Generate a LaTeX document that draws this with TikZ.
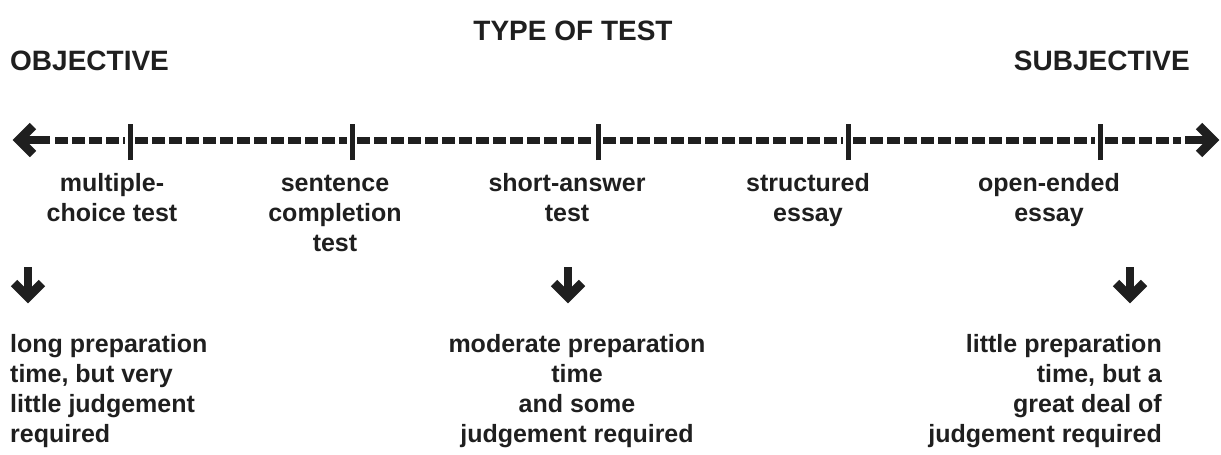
\documentclass[tikz,border=0pt]{standalone}
\usepackage{fontspec}
\setmainfont{Liberation Sans}
\begin{document}
\begin{tikzpicture}[x=1pt,y=-1pt,
  ink/.style={draw=black!88},
  heading/.style={font=\fontsize{28}{33}\selectfont\bfseries, text=black!88, inner sep=0pt},
  lbl/.style={font=\fontsize{25}{30}\selectfont\bfseries, text=black!88, inner sep=0pt},
  tickmark/.style={ink, line width=5pt},
  dashseg/.style={ink, line width=7pt, dash pattern=on 13pt off 4pt},
  shaft/.style={ink, line width=8pt},
  chev/.style={ink, line width=9pt, line join=miter, miter limit=10}]
\useasboundingbox (0,0) rectangle (1221,455);

% headings
\node[heading, anchor=base] (title) at (573,40) {TYPE OF TEST};
\node[heading, anchor=base west] (obj) at (10,70) {OBJECTIVE};
\node[heading, anchor=base east] (subj) at (1190,70) {SUBJECTIVE};

% axis: arrow ends, ticks
\coordinate (Ltip) at (19,140);
\coordinate (Lend) at (50,140);
\coordinate (Rtip) at (1213,140);
\coordinate (Rend) at (1185,140);
\coordinate (t1) at (130,140);
\coordinate (t2) at (352,140);
\coordinate (t3) at (598,140);
\coordinate (t4) at (848,140);
\coordinate (t5) at (1100,140);

\draw[shaft] (Ltip) -- (Lend);
\draw[chev] ([shift={(14,-14)}]Ltip) -- (Ltip) -- ([shift={(14,14)}]Ltip);
\draw[shaft] (Rend) -- (Rtip);
\draw[chev] ([shift={(-14,-14)}]Rtip) -- (Rtip) -- ([shift={(-14,14)}]Rtip);

\draw[dashseg] ([xshift=5]Lend) -- ([xshift=-5]t1);
\draw[dashseg] ([xshift=5]t1) -- ([xshift=-5]t2);
\draw[dashseg] ([xshift=5]t2) -- ([xshift=-5]t3);
\draw[dashseg] ([xshift=5]t3) -- ([xshift=-5]t4);
\draw[dashseg] ([xshift=5]t4) -- ([xshift=-5]t5);
\draw[dashseg] ([xshift=5]t5) -- ([xshift=-4]Rend);

\foreach \t in {t1,t2,t3,t4,t5}
  \draw[tickmark] ([yshift=-20]\t) -- ([yshift=16]\t);

% test types (node base = baseline of the last line)
\node[lbl, anchor=base, align=center] (mc) at (112,221) {multiple-\\choice test};
\node[lbl, anchor=base, align=center] (sc) at (335,251) {sentence\\completion\\test};
\node[lbl, anchor=base, align=center] (sa) at (567,221) {short-answer\\test};
\node[lbl, anchor=base, align=center] (se) at (808,221) {structured\\essay};
\node[lbl, anchor=base, align=center] (oe) at (1049,221) {open-ended\\essay};

% down arrows
\foreach \n/\x in {a/28,b/568,c/1130} {
  \coordinate (\n top) at (\x,267);
  \coordinate (\n apex) at (\x,297);
  \draw[shaft] (\n top) -- (\n apex);
  \draw[chev] ([shift={(-14,-14)}]\n apex) -- (\n apex) -- ([shift={(14,-14)}]\n apex);
}

% consequences
\node[lbl, anchor=base west, align=left] (lo) at (10,442)
  {long preparation\\time, but very\\little judgement\\required};
\node[lbl, anchor=base, align=center] (mid) at (577,442)
  {moderate preparation\\time\\and some\\judgement required};
\node[lbl, anchor=base east, align=right] (hi) at (1162,442)
  {little preparation\\time, but a\\great deal of\\judgement required};
\end{tikzpicture}
\end{document}
